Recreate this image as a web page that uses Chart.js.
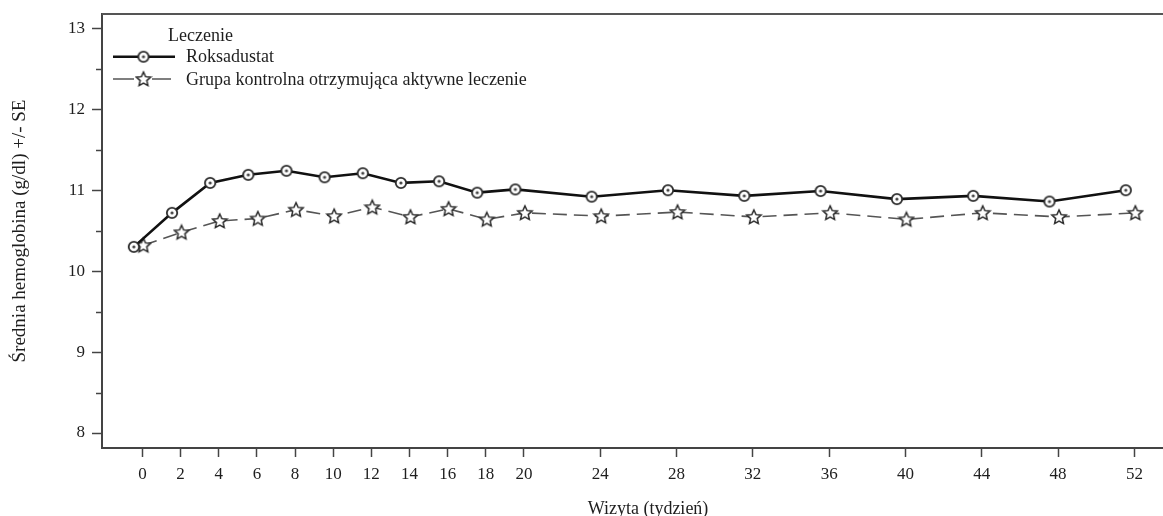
<!DOCTYPE html>
<html lang="pl">
<head>
<meta charset="UTF-8">
<title>Hemoglobina - wizyty</title>
<script src="https://cdn.jsdelivr.net/npm/chart.js"></script>
<style>
    body { margin: 0; background: #fff; }
    .wrap { width: 1163px; height: 516px; position: relative; }
</style>
</head>
<body>
<div class="wrap"><canvas id="hbChart"></canvas></div>
<script>
const weeks = [0, 2, 4, 6, 8, 10, 12, 14, 16, 18, 20, 24, 28, 32, 36, 40, 44, 48, 52];
const roksadustat = [10.30, 10.72, 11.09, 11.19, 11.24, 11.16, 11.21, 11.09, 11.11, 10.97, 11.01, 10.92, 11.00, 10.93, 10.99, 10.89, 10.93, 10.86, 11.00];
const kontrola = [10.32, 10.48, 10.62, 10.65, 10.76, 10.68, 10.79, 10.67, 10.77, 10.64, 10.72, 10.68, 10.73, 10.67, 10.72, 10.64, 10.72, 10.67, 10.72];
const seriesNames = ['Roksadustat', 'Grupa kontrolna otrzymująca aktywne leczenie'];
const yTicks = [8, 9, 10, 11, 12, 13];
const yMinor = [8.5, 9.5, 10.5, 11.5, 12.5];
const legendTitle = 'Leczenie';
const xTitle = 'Wizyta (tydzień)';
const yTitle = 'Średnia hemoglobina (g/dl) +/- SE';

const serif = '"Liberation Serif", "Times New Roman", serif';
const ink = '#1e1e1e';

// small hollow markers like the SAS output
function circleMarker() {
    const c = document.createElement('canvas');
    c.width = 14; c.height = 14;
    const g = c.getContext('2d');
    g.beginPath();
    g.arc(7, 7, 5.2, 0, Math.PI * 2);
    g.fillStyle = '#fff';
    g.fill();
    g.lineWidth = 1.8;
    g.strokeStyle = '#2a2a2a';
    g.stroke();
    g.beginPath();
    g.arc(7, 7, 1.6, 0, Math.PI * 2);
    g.fillStyle = '#444';
    g.fill();
    return c;
}
function starMarker() {
    const c = document.createElement('canvas');
    c.width = 18; c.height = 18;
    const g = c.getContext('2d');
    g.beginPath();
    for (let i = 0; i < 10; i++) {
        const r = i % 2 === 0 ? 7.5 : 3.5;
        const a = -Math.PI / 2 + i * Math.PI / 5;
        const px = 9 + r * Math.cos(a), py = 9.5 + r * Math.sin(a);
        if (i === 0) g.moveTo(px, py); else g.lineTo(px, py);
    }
    g.closePath();
    g.fillStyle = '#fff';
    g.fill();
    g.lineWidth = 1.5;
    g.strokeStyle = '#2a2a2a';
    g.stroke();
    return c;
}
const circ = circleMarker();
const star = starMarker();

// SAS shifts the two groups slightly apart on each visit
const shiftA = -0.45, shiftB = 0.05;

const data = {
    datasets: [{
        label: seriesNames[0],
        data: weeks.map((w, i) => ({ x: w + shiftA, y: roksadustat[i] })),
        borderColor: '#111',
        borderWidth: 2.6,
        pointStyle: circ,
        pointRadius: 6
    }, {
        label: seriesNames[1],
        data: weeks.map((w, i) => ({ x: w + shiftB, y: kontrola[i] })),
        borderColor: '#555',
        borderWidth: 1.6,
        borderDash: [14, 7],
        pointStyle: star,
        pointRadius: 7
    }]
};

const decor = {
    id: 'decor',
    afterDraw(chart) {
        const ctx = chart.ctx;
        const a = chart.chartArea;
        const y = chart.scales.y;
        ctx.save();
        // top frame line
        ctx.strokeStyle = '#555';
        ctx.lineWidth = 2;
        ctx.beginPath();
        ctx.moveTo(a.left, a.top);
        ctx.lineTo(a.right, a.top);
        ctx.stroke();
        // minor y ticks
        ctx.strokeStyle = '#444';
        ctx.lineWidth = 1.5;
        yMinor.forEach(v => {
            const py = Math.round(y.getPixelForValue(v)) + 0.5;
            ctx.beginPath();
            ctx.moveTo(a.left - 6, py);
            ctx.lineTo(a.left, py);
            ctx.stroke();
        });
        // axis titles
        ctx.fillStyle = ink;
        ctx.font = '18px ' + serif;
        ctx.textAlign = 'center';
        ctx.textBaseline = 'alphabetic';
        ctx.fillText(xTitle, 648, 514);
        ctx.save();
        ctx.font = '19px ' + serif;
        ctx.translate(25, 231);
        ctx.rotate(-Math.PI / 2);
        ctx.fillText(yTitle, 0, 0);
        ctx.restore();
        // legend
        ctx.textAlign = 'left';
        ctx.fillText(legendTitle, 168, 41);
        const rows = [56.7, 79];
        chart.data.datasets.forEach((ds, i) => {
            const ly = rows[i];
            ctx.strokeStyle = ds.borderColor;
            ctx.lineWidth = ds.borderWidth;
            ctx.beginPath();
            if (ds.borderDash) {
                ctx.moveTo(113, ly); ctx.lineTo(134, ly);
                ctx.moveTo(152, ly); ctx.lineTo(171, ly);
            } else {
                ctx.moveTo(113, ly); ctx.lineTo(175, ly);
            }
            ctx.stroke();
            const m = ds.pointStyle;
            ctx.drawImage(m, 143.5 - m.width / 2, ly - m.height / 2);
            ctx.fillStyle = ink;
            ctx.textBaseline = 'middle';
            ctx.fillText(ds.label, 186, ly + 1);
        });
        ctx.restore();
    }
};

new Chart(document.getElementById('hbChart'), {
    type: 'line',
    data: data,
    options: {
        responsive: true,
        maintainAspectRatio: false,
        animation: false,
        layout: { autoPadding: false, padding: { top: 14, left: 0, right: 0, bottom: 0 } },
        plugins: { legend: { display: false }, tooltip: { enabled: false } },
        elements: { line: { tension: 0, fill: false } },
        scales: {
            x: {
                type: 'linear',
                min: -2.12,
                max: 53.5,
                afterBuildTicks: s => { s.ticks = weeks.map(v => ({ value: v })); },
                afterFit: s => { s.height = 68; s.paddingLeft = 0; s.paddingRight = 0; },
                ticks: { autoSkip: false, maxRotation: 0, padding: 7, color: ink, font: { family: serif, size: 17 } },
                grid: { drawOnChartArea: false, tickLength: 9, tickColor: '#444', tickWidth: 1.5 },
                border: { color: '#444', width: 2 }
            },
            y: {
                min: 7.815,
                max: 13.177,
                afterBuildTicks: s => { s.ticks = yTicks.map(v => ({ value: v })); },
                afterFit: s => { s.width = 102; s.paddingTop = 0; s.paddingBottom = 0; },
                ticks: { padding: 7, color: ink, font: { family: serif, size: 17 } },
                grid: { drawOnChartArea: false, tickLength: 10, tickColor: '#444', tickWidth: 1.5 },
                border: { color: '#444', width: 2 }
            }
        }
    },
    plugins: [decor]
});
</script>
</body>
</html>
